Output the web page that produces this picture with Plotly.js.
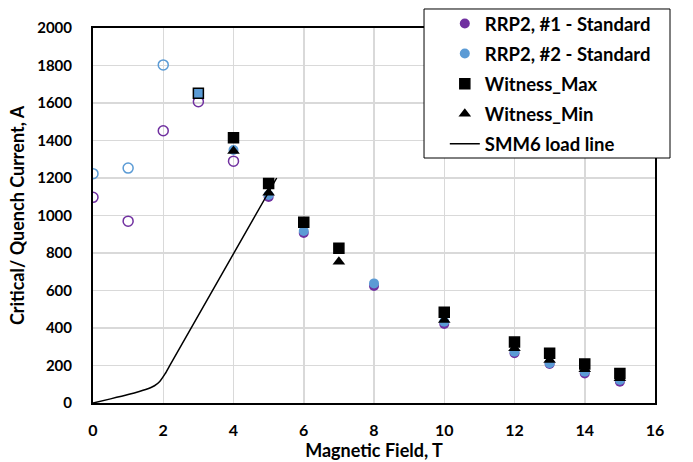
<!DOCTYPE html>
<html>
<head>
<meta charset="utf-8">
<script src="https://cdn.plot.ly/plotly-3.0.1.min.js"></script>
<style>html,body{margin:0;padding:0;background:#fff;}#chart{width:693px;height:462px;}</style>
</head>
<body>
<div id="chart"></div>
<script>
// RRP2 #1 - Standard (purple): open = early points, filled = later points
const rrp1OpenField = [0, 1, 2, 3, 4];
const rrp1OpenCurrent = [1097, 970, 1452, 1607, 1290];
const rrp1Field = [5, 6, 8, 10, 12, 13, 14, 15];
const rrp1Current = [1099, 907, 624, 421, 265, 208, 158, 114];

// RRP2 #2 - Standard (blue)
const rrp2OpenField = [0, 1, 2];
const rrp2OpenCurrent = [1223, 1253, 1803];
const rrp2Field = [4, 5, 6, 8, 10, 12, 13, 14, 15];
const rrp2Current = [1349, 1109, 917, 638, 434, 274, 212, 167, 123];

// Witness samples
const maxField = [4, 5, 6, 7, 10, 12, 13, 14, 15, 3];
const maxCurrent = [1415, 1171, 964, 825, 484, 325, 265, 208, 158, 1652];
const maxFill = ['#000000','#000000','#000000','#000000','#000000','#000000','#000000','#000000','#000000','#5B9BD5'];
const minField = [4, 5, 7, 10, 12, 13, 14, 15];
const minCurrent = [1344, 1122, 754, 443, 292, 229, 180, 132];

// SMM6 load line
const loadField = [0, 0.5, 1, 1.5, 1.75, 1.9, 2.05, 2.2, 5.23];
const loadCurrent = [0, 22, 45, 72, 92, 115, 155, 205, 1200];

const xTicks = [0, 2, 4, 6, 8, 10, 12, 14, 16];
const yTicks = [0, 200, 400, 600, 800, 1000, 1200, 1400, 1600, 1800, 2000];

const PURPLE = '#7030A0', BLUE = '#5B9BD5';
const FONT = 'Lato, "Open Sans", sans-serif';

const traces = [
  {x: rrp1OpenField, y: rrp1OpenCurrent, mode: 'markers', type: 'scatter', showlegend: false, legendgroup: 'a',
   marker: {symbol: 'circle-open', size: 10, color: PURPLE, line: {width: 1.5, color: PURPLE}}},
  {x: rrp1Field, y: rrp1Current, mode: 'markers', type: 'scatter', name: 'RRP2, #1 - Standard', legendgroup: 'a',
   marker: {symbol: 'circle', size: 10, color: PURPLE}},
  {x: rrp2OpenField, y: rrp2OpenCurrent, mode: 'markers', type: 'scatter', showlegend: false, legendgroup: 'b',
   marker: {symbol: 'circle-open', size: 10, color: BLUE, line: {width: 1.5, color: BLUE}}},
  {x: rrp2Field, y: rrp2Current, mode: 'markers', type: 'scatter', name: 'RRP2, #2 - Standard', legendgroup: 'b',
   marker: {symbol: 'circle', size: 10, color: BLUE}},
  {x: maxField, y: maxCurrent, mode: 'markers', type: 'scatter', name: 'Witness_Max', legendgroup: 'c',
   marker: {symbol: 'square', size: 10, color: maxFill, line: {width: 1.5, color: '#000'}}},
  {x: minField, y: minCurrent, mode: 'markers', type: 'scatter', name: 'Witness_Min', legendgroup: 'd',
   marker: {symbol: 'triangle-up', size: 11, color: '#000'}},
  {x: loadField, y: loadCurrent, mode: 'lines', type: 'scatter', name: 'SMM6 load line', legendgroup: 'e',
   line: {color: '#000', width: 1.5, shape: 'spline', smoothing: 0.6}}
];

const layout = {
  width: 693, height: 462,
  margin: {l: 93, r: 38, t: 28, b: 59, autoexpand: false},
  paper_bgcolor: '#fff', plot_bgcolor: '#fff',
  font: {family: FONT, color: '#000', size: 14, weight: 'bold'},
  showlegend: true,
  legend: {
    x: 0.626, y: 1.0613, xanchor: 'left', yanchor: 'top',
    bgcolor: 'rgba(0,0,0,0)', borderwidth: 0,
    font: {family: FONT, size: 18.5, color: '#000', weight: 'bold'},
    traceorder: 'grouped', tracegroupgap: 3, itemwidth: 30
  },
  shapes: [{
    type: 'rect', xref: 'paper', yref: 'paper', layer: 'above',
    x0: 0.589, x1: 1.0267, y0: 0.6533, y1: 1.0507,
    fillcolor: '#fff', line: {color: '#000', width: 1}
  }],
  xaxis: {
    range: [0, 16], tickvals: xTicks, ticktext: xTicks.map(String),
    showgrid: true, gridcolor: '#D9D9D9', gridwidth: 1.5,
    showline: true, linecolor: '#000', linewidth: 2, mirror: true,
    zeroline: false, ticks: '', ticklabelstandoff: 12,
    tickfont: {family: FONT, size: 16, weight: 'bold'},
    title: {text: 'Magnetic Field, T', font: {family: FONT, size: 18, weight: 'bold'}, standoff: 6}
  },
  yaxis: {
    range: [0, 2000], tickvals: yTicks, ticktext: yTicks.map(String),
    showgrid: true, gridcolor: '#D9D9D9', gridwidth: 1.5,
    showline: true, linecolor: '#000', linewidth: 2, mirror: true,
    zeroline: false, ticks: '', ticklabelstandoff: 16,
    tickfont: {family: FONT, size: 15, weight: 'bold'},
    title: {text: 'Critical/ Quench Current, A', font: {family: FONT, size: 18, weight: 'bold'}, standoff: 8}
  }
};

Plotly.newPlot('chart', traces, layout, {displayModeBar: false, staticPlot: true});
</script>
</body>
</html>
